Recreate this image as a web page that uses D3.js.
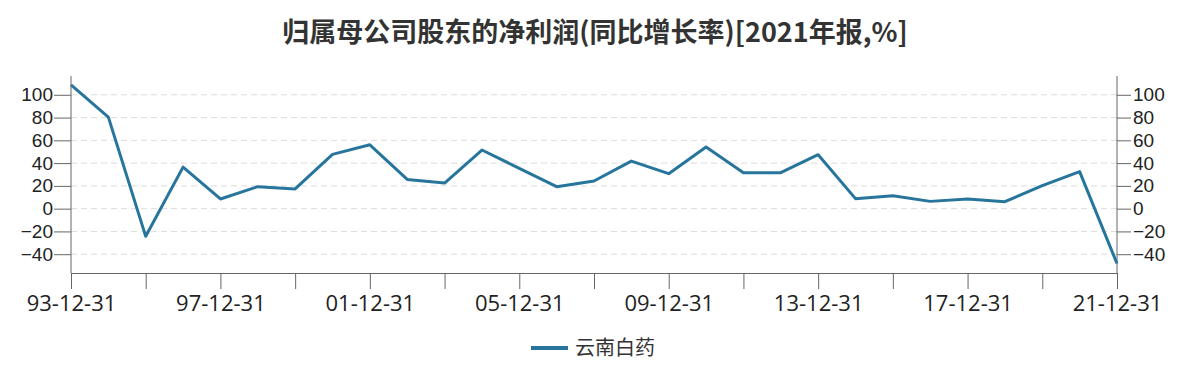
<!DOCTYPE html>
<html>
<head>
<meta charset="utf-8">
<script src="https://cdn.jsdelivr.net/npm/d3@7"></script>
<style>
  body { margin: 0; background: #fff; }
  svg text { font-family: "Open Sans", "Noto Sans CJK SC", sans-serif; }
</style>
</head>
<body>
<div id="chart"></div>
<script>
const years = d3.range(1993, 2022);
const dates = years.map(y => String(y).slice(2) + "-12-31");
const values = [108.8, 80.4, -24.3, 36.5, 8.5, 19.3, 17.3, 47.7, 56.1, 25.7,
                22.5, 51.5, 35.4, 19.3, 24.3, 41.8, 30.7, 54.1, 31.6, 31.6,
                47.4, 8.8, 11.4, 6.4, 8.5, 6.1, 20.2, 32.5, -48.2];
const yTicks = [-40, -20, 0, 20, 40, 60, 80, 100];
const seriesName = "云南白药";
const title = "归属母公司股东的净利润(同比增长率)[2021年报,%]";

const width = 1188, height = 365;
const margin = {left: 71, right: 71, top: 76, bottom: 92};
const color = "#27759c";

const svg = d3.select("#chart").append("svg").attr("width", width).attr("height", height);

const x = d3.scalePoint().domain(dates).range([margin.left, width - margin.right]);
const y = d3.scaleLinear().domain([-56.5, 116.5]).range([height - margin.bottom, margin.top]);

// titulo
svg.append("text")
   .attr("x", width / 2 + 1).attr("y", 42)
   .attr("text-anchor", "middle")
   .style("font-family", "'Noto Sans CJK SC', sans-serif")
   .style("font-weight", "bold").style("font-size", "27px").style("fill", "#333")
   .text(title);

// lineas de cuadricula
svg.append("g").selectAll("line")
   .data(yTicks)
   .enter()
   .append("line")
   .attr("x1", margin.left).attr("x2", width - margin.right)
   .attr("y1", d => y(d)).attr("y2", d => y(d))
   .style("stroke", "#dcdcdc").style("stroke-dasharray", "6,4").style("stroke-width", 1);

const leftAxis = svg.append("g")
   .attr("transform", `translate(${margin.left},0)`)
   .call(d3.axisLeft(y).tickValues(yTicks).tickSize(17).tickPadding(1));
const rightAxis = svg.append("g")
   .attr("transform", `translate(${width - margin.right},0)`)
   .call(d3.axisRight(y).tickValues(yTicks).tickSize(14).tickPadding(2));
const bottomAxis = svg.append("g")
   .attr("transform", `translate(0,${height - margin.bottom})`)
   .call(d3.axisBottom(x).tickValues(dates.filter((d, i) => i % 2 === 0)).tickSize(16).tickPadding(6)
      .tickFormat((d, i) => i % 2 === 0 ? d : ""));

[leftAxis, rightAxis, bottomAxis].forEach(g => {
    g.select(".domain").style("stroke", "#666");
    g.selectAll(".tick line").style("stroke", "#666");
    g.selectAll(".tick text").style("font-size", "19px").style("fill", "#222");
});
// etiquetas del eje y con fuente más compacta
[leftAxis, rightAxis].forEach(g => g.selectAll(".tick text").style("font-family", "'Liberation Sans', sans-serif"));
bottomAxis.selectAll(".tick text").style("font-size", "22px");
leftAxis.select(".domain").attr("d", `M0,${y(116.5)}V${y(-56.5)}`);
rightAxis.select(".domain").attr("d", `M0,${y(116.5)}V${y(-56.5)}`);

// linea de datos
const line = d3.line().x((d, i) => x(dates[i])).y(d => y(d));
svg.append("path")
   .datum(values)
   .attr("d", line)
   .style("fill", "none").style("stroke", color).style("stroke-width", 3)
   .style("stroke-linejoin", "round");

// leyenda
const legend = svg.append("g").attr("transform", "translate(531,348)");
legend.append("line").attr("x1", 0).attr("x2", 37).attr("y1", 0).attr("y2", 0)
      .style("stroke", color).style("stroke-width", 4);
legend.append("text").attr("x", 44).attr("y", 7)
      .style("font-family", "'Noto Sans CJK SC', sans-serif")
      .style("font-size", "20px").style("fill", "#333").text(seriesName);
</script>
</body>
</html>
